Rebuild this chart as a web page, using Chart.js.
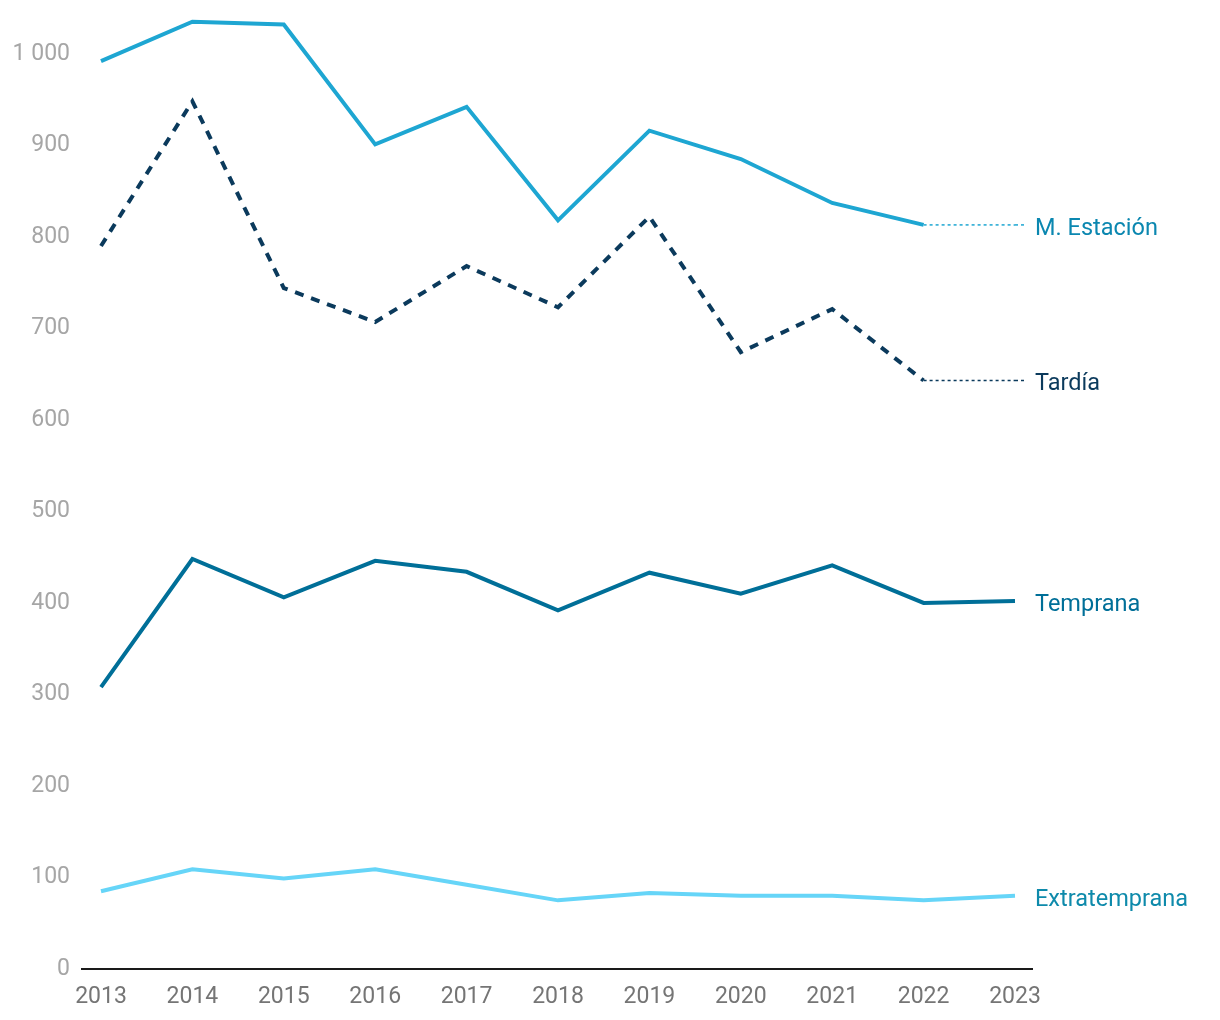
<!DOCTYPE html>
<html>
<head>
<meta charset="utf-8">
<script src="https://cdn.jsdelivr.net/npm/chart.js@4/dist/chart.umd.min.js"></script>
<style>
  html, body { margin: 0; padding: 0; background: #fff; }
  #wrap { width: 1220px; height: 1020px; }
</style>
</head>
<body>
<div id="wrap"><canvas id="lineChart"></canvas></div>
<script>
/*--data--*/
var years = ["2013", "2014", "2015", "2016", "2017", "2018", "2019", "2020", "2021", "2022", "2023"];
var mEstacion = [992, 1035, 1032, 901, 942, 818, 916, 885, 837, 813, null];
var mEstacionProy = [null, null, null, null, null, null, null, null, null, 813, 813];
var tardia = [790, 948, 744, 707, 768, 723, 822, 674, 721, 643, null];
var tardiaProy = [null, null, null, null, null, null, null, null, null, 643, 643];
var temprana = [308, 448, 406, 446, 434, 392, 433, 410, 441, 400, 402];
var extratemprana = [85, 109, 99, 109, 92, 75, 83, 80, 80, 75, 80];
var yTicks = [0, 100, 200, 300, 400, 500, 600, 700, 800, 900, 1000];

Chart.defaults.font.family = "Roboto, 'Noto Sans', sans-serif";

/*--labels at the right end + baseline--*/
var endLabels = {
  id: 'endLabels',
  afterDatasetsDraw: function (chart) {
    var ctx = chart.ctx;
    var area = chart.chartArea;
    var yScale = chart.scales.y;
    var xScale = chart.scales.x;
    ctx.save();

    // x baseline, a bit wider than the plotted range
    var y0 = yScale.getPixelForValue(0);
    ctx.strokeStyle = '#1a1a1a';
    ctx.lineWidth = 2;
    ctx.beginPath();
    ctx.moveTo(area.left - 20, y0);
    ctx.lineTo(area.right + 18, y0);
    ctx.stroke();

    var lastX = xScale.getPixelForValue(years.length - 1);
    chart.data.datasets.forEach(function (ds) {
      if (!ds.endLabel) return;
      var v = ds.data[ds.data.length - 1];
      var py = yScale.getPixelForValue(v);
      if (ds.extend) {
        ctx.strokeStyle = ds.borderColor;
        ctx.lineWidth = ds.borderWidth;
        ctx.setLineDash(ds.borderDash || []);
        ctx.beginPath();
        ctx.moveTo(lastX, py);
        ctx.lineTo(lastX + 12, py);
        ctx.stroke();
        ctx.setLineDash([]);
      }
      ctx.fillStyle = ds.labelColor;
      ctx.font = "23.5px Roboto";
      ctx.textAlign = 'left';
      ctx.textBaseline = 'middle';
      ctx.fillText(ds.endLabel, lastX + 20, py + 4);
    });
    ctx.restore();
  }
};

new Chart(document.getElementById('lineChart'), {
  type: 'line',
  data: {
    labels: years,
    datasets: [
      {
        label: 'M. Estación',
        data: mEstacion,
        borderColor: '#1ea6d2',
        borderWidth: 4,
        pointRadius: 0,
        tension: 0
      },
      {
        label: 'M. Estación proy.',
        data: mEstacionProy,
        borderColor: '#1ea6d2',
        borderWidth: 1.5,
        borderDash: [3, 3],
        pointRadius: 0,
        endLabel: 'M. Estación',
        labelColor: '#0b87b0',
        extend: true
      },
      {
        label: 'Tardía',
        data: tardia,
        borderColor: '#0b3a5c',
        borderWidth: 4,
        borderDash: [9, 8],
        pointRadius: 0,
        tension: 0
      },
      {
        label: 'Tardía proy.',
        data: tardiaProy,
        borderColor: '#0b3a5c',
        borderWidth: 1.5,
        borderDash: [3, 3],
        pointRadius: 0,
        endLabel: 'Tardía',
        labelColor: '#0b3a5c',
        extend: true
      },
      {
        label: 'Temprana',
        data: temprana,
        borderColor: '#006f98',
        borderWidth: 4,
        pointRadius: 0,
        tension: 0,
        endLabel: 'Temprana',
        labelColor: '#006f98'
      },
      {
        label: 'Extratemprana',
        data: extratemprana,
        borderColor: '#66d5f8',
        borderWidth: 4,
        pointRadius: 0,
        tension: 0,
        endLabel: 'Extratemprana',
        labelColor: '#0e8aab'
      }
    ]
  },
  options: {
    responsive: true,
    maintainAspectRatio: false,
    animation: false,
    layout: { padding: { top: 8, right: 205, bottom: 10, left: 0 } },
    plugins: {
      legend: { display: false },
      tooltip: { enabled: false }
    },
    scales: {
      x: {
        grid: { display: false, drawTicks: false },
        border: { display: false },
        afterFit: function (scale) { scale.height = 41; },
        ticks: { color: '#757575', font: { size: 23 }, padding: 14, maxRotation: 0 }
      },
      y: {
        min: 0,
        max: 1050,
        grid: { display: false, drawTicks: false },
        border: { display: false },
        afterBuildTicks: function (scale) {
          scale.ticks = yTicks.map(function (v) { return { value: v }; });
        },
        afterFit: function (scale) {
          scale.width = 101;
          scale.paddingTop = 0;
          scale.paddingBottom = 0;
        },
        ticks: {
          color: '#a6a6a6',
          font: { size: 23 },
          padding: 31,
          callback: function (v) {
            return v >= 1000 ? String(v).replace(/\B(?=(\d{3})+(?!\d))/g, ' ') : v;
          }
        }
      }
    }
  },
  plugins: [endLabels]
});
</script>
</body>
</html>
